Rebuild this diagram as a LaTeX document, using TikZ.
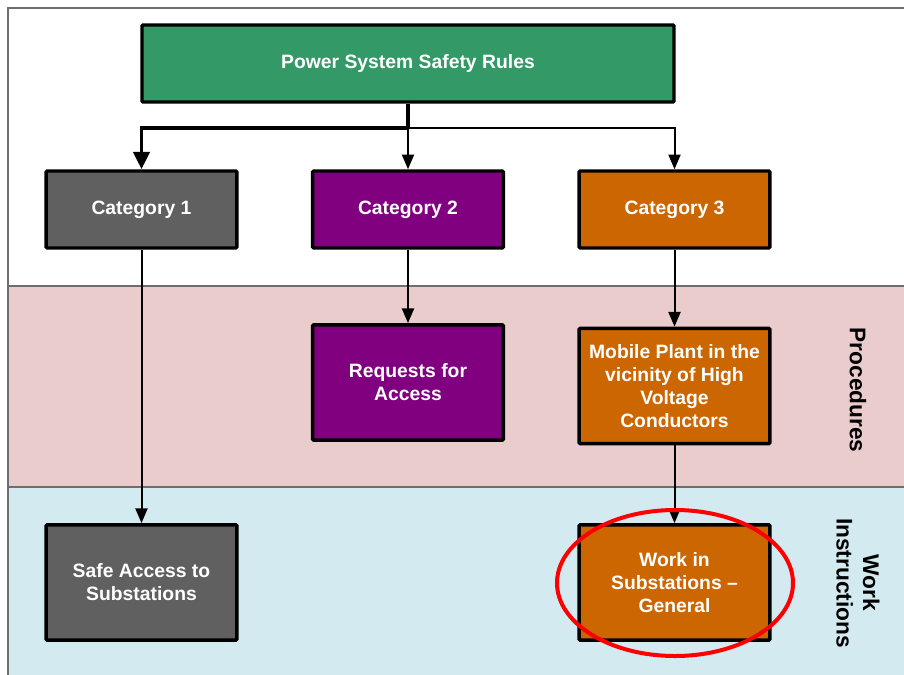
\documentclass[tikz,border=0pt]{standalone}
\usepackage{fontspec}
\setmainfont{Liberation Sans}
\usetikzlibrary{arrows.meta}

\definecolor{rulegreen}{HTML}{339966}
\definecolor{catgray}{HTML}{606060}
\definecolor{catpurple}{HTML}{800080}
\definecolor{catorange}{HTML}{CC6600}
\definecolor{procpink}{HTML}{EBCCCC}
\definecolor{instblue}{HTML}{D3EAF0}
\definecolor{framegray}{HTML}{6E6E6E}

\tikzset{
  box/.style={draw=black, line width=2.6pt, rounded corners=0.8pt, text=white,
    font=\fontsize{14.5}{17.3}\selectfont\bfseries, align=center,
    minimum width=143pt, minimum height=57.75pt, inner sep=2pt},
  tallbox/.style={box, minimum height=86.5pt},
  link/.style={line width=1.5pt, -{Triangle[width=9pt,length=11pt]}},
  thicklink/.style={line width=2.8pt, -{Triangle[width=12pt,length=13pt]}},
  lane/.style={font=\fontsize{17}{20}\selectfont\bfseries, align=center, rotate=-90}
}

\begin{document}
\begin{tikzpicture}[x=0.75pt,y=-0.75pt]
  \useasboundingbox (0,0) rectangle (904,675);

  % bands
  \fill[white] (8,8) rectangle (904,286);
  \fill[procpink] (8,286) rectangle (904,487);
  \fill[instblue] (8,487) rectangle (904,675);
  \draw[framegray, line width=0.9pt] (904,8) -- (8,8) -- (8,675);
  \draw[framegray, line width=0.9pt] (8,286) -- (904,286);
  \draw[framegray, line width=0.9pt] (8,487) -- (904,487);

  % boxes
  \node[box, fill=rulegreen, minimum width=399pt] (rules) at (408,63.5) {Power System Safety Rules};

  \node[box, fill=catgray] (cat1) at (141.5,209.5) {Category 1};
  \node[box, fill=catpurple] (cat2) at (408,209.5) {Category 2};
  \node[box, fill=catorange] (cat3) at (674.5,209.5) {Category 3};

  \node[tallbox, fill=catpurple] (access) at (408,382.5) {Requests for\\Access};
  \node[tallbox, fill=catorange] (mobile) at (674.5,386) {Mobile Plant in the\\vicinity of High\\Voltage\\Conductors};

  \node[tallbox, fill=catgray] (safe) at (141.5,582.5) {Safe Access to\\Substations};
  \node[tallbox, fill=catorange] (subst) at (674.5,582.5) {Work in\\Substations --\\General};

  % lane labels
  \node[lane] (proc) at (858,390) {Procedures};
  \node[lane] (instr) at (858,583) {Work\\Instructions};

  % connectors
  \coordinate (fork) at (408,128);
  \draw[line width=2.8pt] (rules.south) -- (fork);
  \draw[thicklink] (fork) -| (cat1.north);
  \draw[link] (fork) -- (cat2.north);
  \draw[link] (fork) -| (cat3.north);

  \draw[link] (cat1) -- (safe);
  \draw[link] (cat2) -- (access);
  \draw[link] (cat3) -- (mobile);
  \draw[link] (mobile) -- (subst);

  % highlight
  \draw[red, line width=3pt] (675,583) ellipse [x radius=118, y radius=73];
\end{tikzpicture}
\end{document}
